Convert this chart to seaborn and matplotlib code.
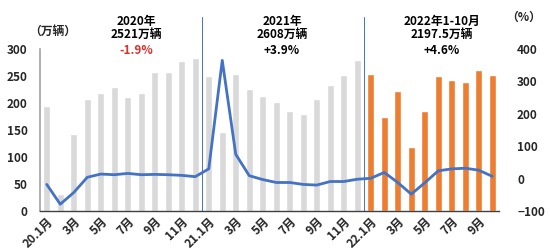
import numpy as np
import pandas as pd
import matplotlib
matplotlib.use("Agg")
import matplotlib.pyplot as plt
import seaborn as sns

sns.set_theme(style="white")
plt.rcParams['font.family'] = ['Noto Sans CJK SC', 'DejaVu Sans']
plt.rcParams['font.weight'] = 'bold'

# monthly sales (万辆)
sales_2020 = [194, 31, 143, 207, 219, 230, 211, 219, 257, 257, 277, 283]
sales_2021 = [250, 146, 253, 225, 213, 202, 186, 180, 207, 233, 252, 279]
sales_2022 = [253, 174, 223, 118, 186, 250, 242, 238, 261, 251]
# year-on-year growth (%)
growth_2020 = [-18, -79, -43, 4, 14, 12, 16, 12, 13, 12, 10, 6]
growth_2021 = [30, 365, 75, 9, -3, -12, -12, -18, -20, -9, -9, -2]
growth_2022 = [1, 19, -12, -48, -13, 24, 30, 32, 26, 7]

tick_labels = ["20.1月", "3月", "5月", "7月", "9月", "11月",
               "21.1月", "3月", "5月", "7月", "9月", "11月",
               "22.1月", "3月", "5月", "7月", "9月"]

annotations = [("2020年\n2521万辆", "-1.9%"),
               ("2021年\n2608万辆", "+3.9%"),
               ("2022年1-10月\n2197.5万辆", "+4.6%")]

sales = sales_2020 + sales_2021 + sales_2022
growth = growth_2020 + growth_2021 + growth_2022
period = ["p"] * 24 + ["c"] * 10
df = pd.DataFrame({"idx": np.arange(len(sales)), "sales": sales,
                   "growth": growth, "period": period})

FS = 8.5

fig = plt.figure(figsize=(5.5, 2.48), dpi=100)
ax = fig.add_axes([40/550, 1-211/248, 459/550, 162/248])

sns.barplot(data=df, x="idx", y="sales", hue="period",
            palette={"p": "#D9D9D9", "c": "#ED7D31"}, native_scale=True,
            width=0.5, dodge=False, legend=False, ax=ax, saturation=1)
ax.set_xlim(-0.5, len(sales) - 0.5)
ax.set_ylim(0, 300)
ax.set_yticks(np.arange(0, 301, 50))
ax.set_xticks(np.arange(0, len(sales), 2))
ax.set_xticklabels(tick_labels, rotation=45, ha="right", rotation_mode="anchor",
                   fontsize=FS, fontweight="bold")
ax.tick_params(axis="y", labelsize=FS, pad=9, length=0)
ax.tick_params(axis="x", pad=3, length=0)
for lab in ax.get_yticklabels():
    lab.set_fontweight("bold")
ax.set_xlabel("")
ax.set_ylabel("")
for s in ["top", "right"]:
    ax.spines[s].set_visible(False)
ax.spines["left"].set_color("#A6A6A6")
ax.spines["bottom"].set_color("#404040")
ax.spines["bottom"].set_linewidth(1.0)

ax2 = ax.twinx()
sns.lineplot(data=df, x="idx", y="growth", color="#4472C4", linewidth=2,
             ax=ax2)
ax2.set_ylim(-100, 400)
ax2.set_yticks(np.arange(-100, 401, 100))
ax2.tick_params(axis="y", labelsize=FS, pad=13, length=0)
for lab in ax2.get_yticklabels():
    lab.set_fontweight("bold")
ax2.set_ylabel("")
for s in ["top", "right", "left", "bottom"]:
    ax2.spines[s].set_visible(False)
ax2.set_xlim(-0.5, len(sales) - 0.5)

# dividers
for xd in [11.5, 23.5]:
    ax.plot([xd, xd], [0, 360], color="#4472C4", linewidth=0.7, clip_on=False)

# annotations
centers = [136, 282, 442]
for (txt, pct), cx in zip(annotations, centers):
    fig.text(cx/550, 1-15/248, txt, ha="center", va="top", fontsize=FS,
             fontweight="bold", color="black", linespacing=1.0)
    fig.text(cx/550, 1-44.5/248, pct, ha="center", va="top", fontsize=FS,
             fontweight="bold",
             color="#E0302A" if pct.startswith("-") else "black")

fig.text(53/550, 1-31/248, "（万辆）", ha="center", va="center", fontsize=FS,
         fontweight="bold")
fig.text(524/550, 1-17/248, "（%）", ha="center", va="center", fontsize=FS,
         fontweight="bold")

fig.savefig("out.png", dpi=100)
